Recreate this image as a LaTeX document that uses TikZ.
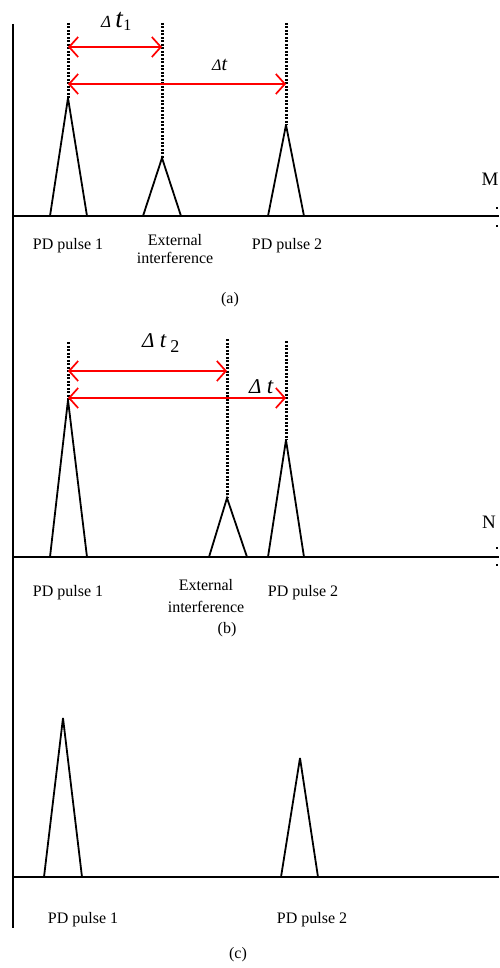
\documentclass[tikz,border=0pt]{standalone}
\usepackage{fontspec}
\setmainfont{Liberation Serif}
\usetikzlibrary{arrows.meta}
\begin{document}
\begin{tikzpicture}[x=1pt,y=-1pt,
  axisline/.style={line width=2pt,black},
  pulse/.style={line width=1.8pt,black,line join=miter,miter limit=4},
  dotline/.style={line width=3pt,black,dash pattern=on 2pt off 1.5pt},
  gap/.style={line width=1.7pt,red,{Straight Barb[length=9pt,width=20pt,line width=1.7pt]}-{Straight Barb[length=9pt,width=20pt,line width=1.7pt]}},
  lbl/.style={anchor=base,inner sep=0pt,font=\fontsize{16}{18}\selectfont},
  ml/.style={anchor=base,inner sep=0pt,font=\fontsize{19}{21}\selectfont},
  tick/.style={fill=black,inner sep=0pt,minimum size=2.5pt}]
\useasboundingbox (0,0) rectangle (499,968);
% vertical axis
\coordinate (vtop) at (12.5,24);
\coordinate (vbot) at (12.5,928);
\draw[axisline] (vtop) -- (vbot);
% ===== panel (a)
\coordinate (a0) at (12.5,216); \coordinate (a1) at (499,216);
\draw[axisline] (a0) -- (a1);
\node[tick] (am1) at (497,208) {};
\node[tick] (am2) at (497,226) {};
\coordinate (ap1) at (68,98);  \coordinate (ai) at (162,158); \coordinate (ap2) at (286,125);
\draw[pulse] (50,216) -- (ap1) -- (87,216);
\draw[pulse] (143,216) -- (ai) -- (181,216);
\draw[pulse] (268,216) -- (ap2) -- (304,216);
\coordinate (ad1) at (68,23); \coordinate (ad2) at (162,23); \coordinate (ad3) at (286,23);
\draw[dotline] (ad1) -- (ap1);
\draw[dotline] (ad2) -- (ai);
\draw[dotline] (ad3) -- (ap2);
\coordinate (ar1s) at (68,47); \coordinate (ar1e) at (162,47);
\coordinate (ar2s) at (68,84); \coordinate (ar2e) at (286,84);
\draw[gap] (ar1s) -- (ar1e);
\draw[gap] (ar2s) -- (ar2e);
\node[anchor=base west,inner sep=0pt] (adt1) at (101,28) {\fontsize{17}{19}\selectfont\textit{Δ} \fontsize{27}{29}\selectfont\textit{t}\raisebox{-3pt}{\fontsize{16}{18}\selectfont 1}};
\node[anchor=base west,inner sep=0pt] (adt) at (212,71) {\fontsize{16}{18}\selectfont\textit{Δ}\fontsize{20}{22}\selectfont\textit{t}};
\node[ml] (M) at (490,186) {M};
\node[lbl] (ap1l) at (68,250) {PD pulse 1};
\node[lbl] (ail) at (175,245) {External};
\node[lbl] (ail2) at (175,263) {interference};
\node[lbl] (ap2l) at (287,250) {PD pulse 2};
\node[lbl] (acap) at (230,303) {(a)};
% ===== panel (b)
\coordinate (b0) at (12.5,557); \coordinate (b1) at (499,557);
\draw[axisline] (b0) -- (b1);
\node[tick] (bm1) at (497,548) {};
\node[tick] (bm2) at (497,565) {};
\coordinate (bp1) at (68,400);  \coordinate (bi) at (227,498); \coordinate (bp2) at (286,440);
\draw[pulse] (50,557) -- (bp1) -- (87,557);
\draw[pulse] (209,557) -- (bi) -- (247,557);
\draw[pulse] (268,557) -- (bp2) -- (304,557);
\coordinate (bd1) at (68,342); \coordinate (bd2) at (227,339); \coordinate (bd3) at (286,341);
\draw[dotline] (bd1) -- (bp1);
\draw[dotline] (bd2) -- (bi);
\draw[dotline] (bd3) -- (bp2);
\coordinate (br1s) at (68,371); \coordinate (br1e) at (227,371);
\coordinate (br2s) at (68,398); \coordinate (br2e) at (286,398);
\draw[gap] (br1s) -- (br1e);
\draw[gap] (br2s) -- (br2e);
\node[anchor=base west,inner sep=0pt] (bdt2) at (142,347) {\fontsize{21}{23}\selectfont\textit{Δ} \fontsize{23}{25}\selectfont\textit{t}\,\raisebox{-5pt}{\fontsize{18}{20}\selectfont 2}};
\node[anchor=base west,inner sep=0pt] (bdt) at (249,393) {\fontsize{21}{23}\selectfont\textit{Δ} \fontsize{23}{25}\selectfont\textit{t}};
\node[ml] (N) at (489,528) {N};
\node[lbl] (bp1l) at (68,596) {PD pulse 1};
\node[lbl] (bil) at (206,590) {External};
\node[lbl] (bil2) at (206,612) {interference};
\node[lbl] (bp2l) at (303,596) {PD pulse 2};
\node[lbl] (bcap) at (227,633) {(b)};
% ===== panel (c)
\coordinate (c0) at (12.5,877); \coordinate (c1) at (499,877);
\draw[axisline] (c0) -- (c1);
\coordinate (cp1) at (63,718); \coordinate (cp2) at (300,758);
\draw[pulse] (44,877) -- (cp1) -- (82,877);
\draw[pulse] (281,877) -- (cp2) -- (318,877);
\node[lbl] (cp1l) at (83,923) {PD pulse 1};
\node[lbl] (cp2l) at (312,923) {PD pulse 2};
\node[lbl] (ccap) at (238,958) {(c)};
\end{tikzpicture}
\end{document}
